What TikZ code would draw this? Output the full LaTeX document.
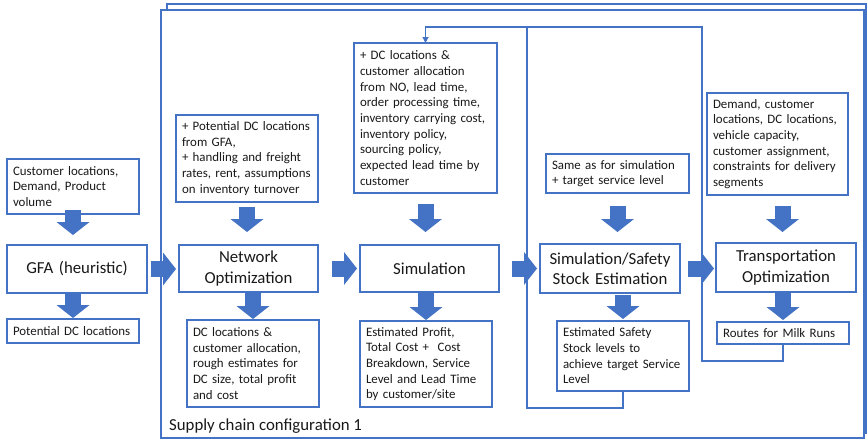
\documentclass[tikz,border=0pt]{standalone}
\usepackage{fontspec}
\setmainfont{Carlito}
\usetikzlibrary{arrows.meta,calc}
\definecolor{oblue}{RGB}{68,114,196}
\definecolor{txt}{RGB}{25,25,25}
\begin{document}
\begin{tikzpicture}[x=1pt,y=-1pt,
  box/.style={draw=oblue,line width=1.1pt,fill=white,anchor=north west,outer sep=0pt,inner xsep=6pt,inner ysep=0pt,text=txt},
  small/.style={font=\fontsize{12.9}{15.7}\selectfont,align=left},
  big/.style={font=\fontsize{16.8}{20.5}\selectfont,align=center},
  barrow/.style={draw=oblue,line width=16pt,-{Triangle[length=13pt,width=33pt,line width=0pt]}},
  fb/.style={draw=oblue,line width=1.1pt},
  frame/.style={draw=oblue,line width=1.1pt,fill=white}]
\useasboundingbox (0,0) rectangle (867,439);
% frames
\draw[frame] (167,4) rectangle (866,433);
\draw[frame] (161,10) rectangle (864,438);
\node[text=txt,font=\fontsize{16.8}{20.5}\selectfont,anchor=base west,inner sep=0pt] (cfg) at (169,430) {Supply chain configuration 1};
% GFA column
\node[box,small,text width=120pt,minimum height=55pt] (gfain) at (7,159) {Customer locations,\\Demand, Product\\volume};
\node[box,big,text width=128pt,minimum height=48pt] (gfa) at (7,245) {GFA (heuristic)};
\node[box,small,text width=120pt,minimum height=24pt] (gfaout) at (7,319) {Potential DC locations};
% Network optimization
\node[box,small,text width=130pt,minimum height=87pt] (noin) at (176,115) {+ Potential DC locations\\from GFA,\\+ handling and freight\\rates, rent, assumptions\\on inventory turnover};
\node[box,big,text width=127pt,minimum height=47pt] (no) at (179,245) {Network\\Optimization};
\node[box,small,text width=120pt,minimum height=87pt] (noout) at (187,320) {DC locations \&\\customer allocation,\\rough estimates for\\DC size, total profit\\and cost};
% Simulation
\node[box,small,text width=131pt,minimum height=150pt] (simin) at (354,43) {+ DC locations \&\\customer allocation\\from NO, lead time,\\order processing time,\\inventory carrying cost,\\inventory policy,\\sourcing policy,\\expected lead time by\\customer};
\node[box,big,text width=127pt,minimum height=47pt] (sim) at (360,245) {Simulation};
\node[box,small,text width=120pt,minimum height=86pt] (simout) at (360,321) {Estimated Profit,\\Total Cost +~ Cost\\Breakdown, Service\\Level and Lead Time\\by customer/site};
% Safety stock
\node[box,small,text width=131pt,minimum height=39pt] (ssein) at (546,154) {Same as for simulation\\+ target service level};
\node[box,big,text width=128pt,minimum height=49pt] (sse) at (540,244) {Simulation/Safety\\Stock Estimation};
\node[box,small,text width=120pt,minimum height=70pt] (sseout) at (557,321) {Estimated Safety\\Stock levels to\\achieve target Service\\Level};
% Transportation
\node[box,small,text width=129pt,minimum height=102pt] (toin) at (707,93) {Demand, customer\\locations, DC locations,\\vehicle capacity,\\customer assignment,\\constraints for delivery\\segments};
\node[box,big,text width=128pt,minimum height=49pt] (to) at (716,243) {Transportation\\Optimization};
\node[box,small,text width=120pt,minimum height=22pt] (toout) at (717,322) {Routes for Milk Runs};
% vertical block arrows (inputs)
\draw[barrow] ([yshift=4pt]gfain.south) -- ([yshift=10pt]gfain.south |- gfa.north);
\draw[barrow] ([yshift=-5pt]noin.south) -- ([yshift=13pt]noin.south |- no.north);
\draw[barrow] ([yshift=-11pt]simin.south) -- ([yshift=13pt]simin.south |- sim.north);
\draw[barrow] ([yshift=-13pt]ssein.south) -- ([yshift=12pt]ssein.south |- sse.north);
\draw[barrow] ([xshift=5pt,yshift=-11pt]toin.south) -- ([xshift=5pt,yshift=11pt]toin.south |- to.north);
% vertical block arrows (outputs)
\draw[barrow] (gfaout.north |- gfa.south) -- ([yshift=1pt]gfaout.north);
\draw[barrow] (noout.north |- no.south) -- ([yshift=1pt]noout.north);
\draw[barrow] (simout.north |- sim.south) -- ([yshift=1pt]simout.north);
\draw[barrow] ([yshift=-2pt]sseout.north |- sse.south) -- ([yshift=2pt]sseout.north);
\draw[barrow] ([yshift=-1pt]toout.north |- to.south) -- ([yshift=2pt]toout.north);
% horizontal block arrows
\draw[barrow] ([xshift=4pt]gfa.east) -- ([xshift=-3pt]gfa.east -| no.west);
\draw[barrow] ([xshift=14pt]no.east) -- ([xshift=-3pt]no.east -| sim.west);
\draw[barrow] ([xshift=13pt]sim.east) -- ([xshift=-3pt]sim.east -| sse.west);
\draw[barrow] ([xshift=8pt]sse.east) -- ([xshift=-2pt]sse.east -| to.west);
% feedback connectors
\coordinate (fbtop) at (527,27);
\coordinate (fba) at (527,408);
\coordinate (fbb) at (702,361);
\coordinate (fbbtop) at (702,27);
\draw[fb,-{Triangle[length=6pt,width=6pt]}] (sseout.south) |- (fba) -- (fbtop) -| (simin.north);
\draw[fb] (toout.south) |- (fbb) -- (fbbtop) -- (fbtop);
\end{tikzpicture}
\end{document}
